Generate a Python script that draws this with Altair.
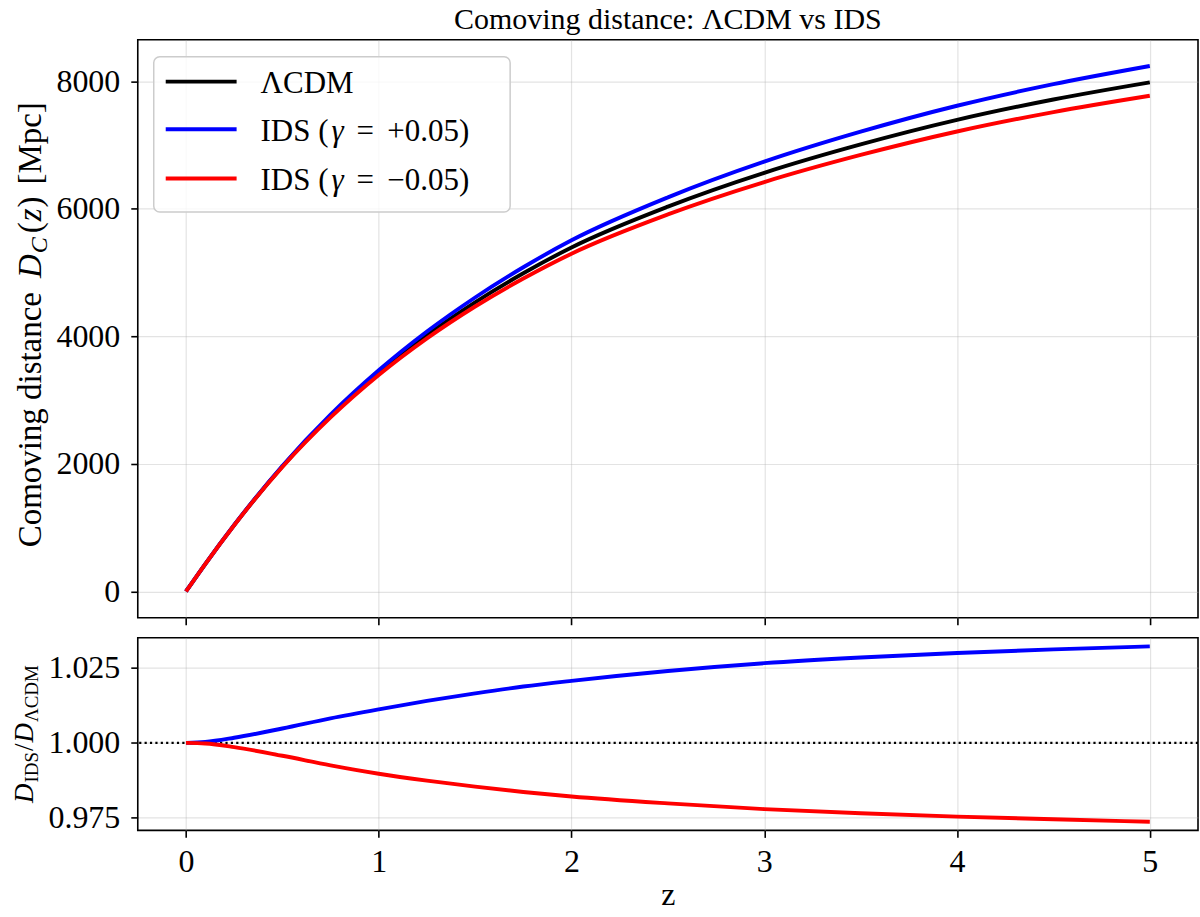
import altair as alt
import pandas as pd

# ---- data -----------------------------------------------------------------
z = [0.0, 0.1, 0.25, 0.5, 0.75, 1.0, 1.25, 1.5, 1.75, 2.0, 2.5, 3.0, 3.5, 4.0, 4.5, 5.0]

# comoving distance D_C(z) in Mpc
dc_lcdm = [0, 430, 1040, 1960, 2750, 3430, 4020, 4535, 4990, 5395, 6035, 6565, 7010, 7395, 7715, 7984]
dc_ids_pos = [0, 430, 1042, 1969, 2773, 3468, 4076, 4610, 5084, 5507, 6180, 6740, 7210, 7617, 7956, 8241]
dc_ids_neg = [0, 430, 1039, 1952, 2729, 3395, 3969, 4469, 4908, 5298, 5913, 6420, 6845, 7213, 7518, 7774]

# D_IDS / D_LCDM
ratio_pos = [1.0, 1.0003, 1.0017, 1.0048, 1.0082, 1.0112, 1.0140, 1.0165, 1.0188, 1.0207,
             1.0240, 1.0266, 1.0285, 1.0300, 1.0312, 1.0322]
ratio_neg = [1.0, 0.9998, 0.9986, 0.9957, 0.9925, 0.9897, 0.9874, 0.9854, 0.9836, 0.9821,
             0.9798, 0.9779, 0.9765, 0.9754, 0.9745, 0.9737]

z_ticks = [0, 1, 2, 3, 4, 5]
dc_ticks = [0, 2000, 4000, 6000, 8000]
ratio_ticks = [0.975, 1.0, 1.025]
reference_ratio = [1.0]

series_labels = ["ΛCDM", "IDS (γ = +0.05)", "IDS (γ = −0.05)"]
series_colors = ["black", "blue", "red"]
gamma_text = ["+0.05)", "−0.05)"]

# ---- layout / style -------------------------------------------------------
SERIF = "Liberation Serif"
W, H_TOP, H_BOT, GAP = 1062, 579, 193, 20
LW = 3.9

curves = pd.DataFrame({
    "z": z, "lcdm": dc_lcdm, "ids_pos": dc_ids_pos, "ids_neg": dc_ids_neg,
    "r_pos": ratio_pos, "r_neg": ratio_neg,
})
one = pd.DataFrame({"k": [0]})

# approximate advance widths (per 1000 em) of the serif face
ADV_R = {' ': 250, 'C': 667, 'o': 500, 'm': 778, 'v': 500, 'i': 278, 'n': 500, 'g': 500,
         'd': 500, 's': 389, 't': 278, 'a': 444, 'c': 444, 'e': 444, '(': 333, ')': 333,
         '[': 333, ']': 333, 'M': 889, 'p': 500, 'I': 333, 'D': 722, 'S': 556, 'Λ': 722,
         '/': 278}
ADV_I = {'D': 722, 'C': 667, 'z': 389}


def advance(txt, size, italic):
    table = ADV_I if italic else ADV_R
    return sum(table.get(ch, 500) for ch in txt) * size / 1000.0


def piece(txt, size, italic, x, y, dx=0.0, dy=0.0, angle=0):
    return alt.Chart(one).mark_text(
        text=txt, font=SERIF, fontSize=size,
        fontStyle="italic" if italic else "normal",
        align="left", baseline="alphabetic", angle=angle,
        dx=dx, dy=dy, color="black",
    ).encode(x=alt.value(x), y=alt.value(y))


def vertical_label(pieces, x, center):
    """Rich text read bottom-to-top, centred on `center`."""
    total = sum(advance(t, s, it) + g for t, s, it, _, g in pieces)
    start = center + total / 2.0
    layers, off = [], 0.0
    for t, s, it, shift, g in pieces:
        layers.append(piece(t, s, it, x, start, dx=off, dy=shift, angle=270))
        off += advance(t, s, it) + g
    return layers


x_scale = alt.Scale(domain=[-0.25, 5.25], nice=False, zero=False)
y_top_scale = alt.Scale(domain=[-412, 8653], nice=False, zero=False)
y_bot_scale = alt.Scale(domain=[0.9708, 1.0351], nice=False, zero=False)

x_top = alt.X("z:Q", scale=x_scale,
              axis=alt.Axis(values=z_ticks, labels=False, title=None))
x_bot = alt.X("z:Q", scale=x_scale,
              axis=alt.Axis(values=z_ticks, format="d", title="z"))
y_top_axis = alt.Axis(values=dc_ticks, format="d", title=None)
y_bot_axis = alt.Axis(values=ratio_ticks, format=".3f", title=None)

# ---- top panel: comoving distance ----------------------------------------
top_layers = [
    # fixes the overall canvas extent
    alt.Chart(one).mark_rect(opacity=0).encode(
        x=alt.value(-137), x2=alt.value(W + 1), y=alt.value(-38),
        y2=alt.value(H_TOP + GAP + H_BOT + 87)),
]
for col, color in zip(["lcdm", "ids_pos", "ids_neg"], series_colors):
    top_layers.append(
        alt.Chart(curves).mark_line(color=color, strokeWidth=LW, interpolate="monotone")
        .encode(x=x_top, y=alt.Y(f"{col}:Q", scale=y_top_scale, axis=y_top_axis))
    )

# legend frame, sample lines and labels
top_layers.append(
    alt.Chart(one).mark_rect(fill="white", fillOpacity=0.8, stroke="#cccccc",
                             strokeWidth=1.5, cornerRadius=6)
    .encode(x=alt.value(16), x2=alt.value(373), y=alt.value(17), y2=alt.value(172.5))
)
row_y = [42, 89.7, 139]
LEG_FS = 31
for i, (label, color) in enumerate(zip(series_labels, series_colors)):
    top_layers.append(
        alt.Chart(one).mark_rule(color=color, strokeWidth=LW)
        .encode(x=alt.value(28), x2=alt.value(99), y=alt.value(row_y[i]))
    )
    base = row_y[i] + 11.5
    if i == 0:
        top_layers.append(piece(label, LEG_FS, False, 123, base))
    else:
        top_layers += [
            piece("IDS (", LEG_FS, False, 123, base),
            piece("γ", LEG_FS, True, 123, base, dx=71),
            piece("=", LEG_FS, False, 123, base, dx=96),
            piece(gamma_text[i - 1], LEG_FS, False, 123, base, dx=127),
        ]

# chart title
top_layers.append(
    alt.Chart(one).mark_text(text="Comoving distance: ΛCDM vs IDS", font=SERIF,
                             fontSize=30, align="center", baseline="alphabetic",
                             color="black")
    .encode(x=alt.value(W / 2), y=alt.value(-11))
)

# y-axis title: Comoving distance D_C(z) [Mpc]
top_layers += vertical_label([
    ("Comoving distance", 33, False, 0, 14),
    ("D", 33, True, 0, 1),
    ("C", 24, True, 6, 4),
    ("(", 33, False, 0, 1),
    ("z", 33, True, 0, 1),
    (")", 33, False, 0, 12),
    ("[Mpc]", 33, False, 0, 0),
], x=-97, center=H_TOP / 2 - 4)

top = alt.layer(*top_layers).properties(width=W, height=H_TOP)

# ---- bottom panel: ratio --------------------------------------------------
bot_layers = [
    alt.Chart(pd.DataFrame({"ref": reference_ratio}))
    .mark_rule(color="black", strokeWidth=2.2, strokeDash=[2.2, 3.2])
    .encode(y=alt.Y("ref:Q", scale=y_bot_scale, axis=y_bot_axis)),
]
for col, color in zip(["r_pos", "r_neg"], series_colors[1:]):
    bot_layers.append(
        alt.Chart(curves).mark_line(color=color, strokeWidth=LW, interpolate="monotone")
        .encode(x=x_bot, y=alt.Y(f"{col}:Q", scale=y_bot_scale, axis=y_bot_axis))
    )

# y-axis title: D_IDS / D_ΛCDM
bot_layers += vertical_label([
    ("D", 27, True, 0, 1),
    ("IDS", 19, False, 5, 1),
    ("/", 27, False, 0, 1),
    ("D", 27, True, 0, 1),
    ("ΛCDM", 19, False, 5, 0),
], x=-104.5, center=H_BOT / 2)

bottom = alt.layer(*bot_layers).properties(width=W, height=H_BOT)

chart = (
    alt.vconcat(top, bottom, spacing=GAP, bounds="flush")
    .properties(padding=0, background="white",
                autosize=alt.AutoSizeParams(type="pad"))
    .configure_view(stroke="black", strokeWidth=1.6)
    .configure_axis(
        domain=False,
        grid=True, gridColor="#b0b0b0", gridOpacity=0.35, gridWidth=1.2,
        ticks=True, tickColor="black", tickSize=7, tickWidth=1.6,
        labelFont=SERIF, labelFontSize=32, labelColor="black",
        titleFont=SERIF, titleFontSize=32, titleFontWeight="normal",
        titleColor="black",
    )
    .configure_axisLeft(labelPadding=11)
    .configure_axisBottom(labelPadding=9, titlePadding=2, labelFlush=False)
)

chart.save("out.html", embed_options={"renderer": "svg", "actions": False})
